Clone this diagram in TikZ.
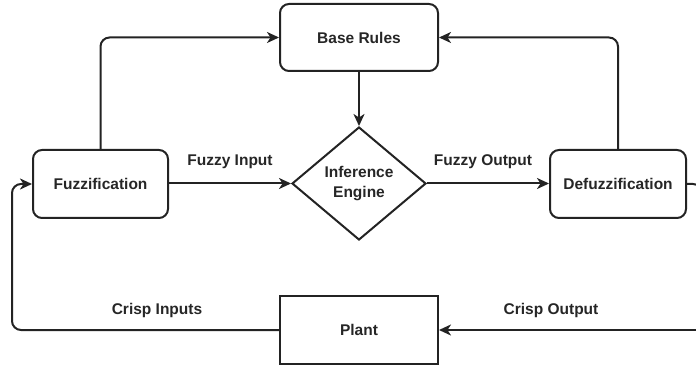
\documentclass[tikz,border=0pt]{standalone}
\usepackage{fontspec}
\setmainfont{Liberation Sans}
\usetikzlibrary{shapes.geometric,arrows.meta}
\begin{document}
\begin{tikzpicture}[x=1pt,y=-1pt,
  line width=2pt, draw={rgb,255:red,35;green,35;blue,35},
  font=\fontsize{15.5}{20}\selectfont\bfseries,
  blk/.style={draw, rounded corners=9pt, inner sep=0pt, text=black!85},
  sq/.style={draw, inner sep=0pt, text=black!85},
  dia/.style={draw, diamond, inner sep=0pt, minimum width=134pt, minimum height=113pt, align=center, text=black!85},
  arr/.style={-{Stealth[length=12pt,width=11pt,inset=3.5pt]}, rounded corners=9pt},
  lab/.style={text=black!85}]
\useasboundingbox (0,0) rectangle (696,366);
\node[blk, minimum width=158pt, minimum height=67pt] (base) at (359,37.5) {Base Rules};
\node[blk, minimum width=135pt, minimum height=68pt] (fuzz) at (100.5,184) {Fuzzification};
\node[dia] (inf) at (359,183.5) {Inference\\Engine};
\node[blk, minimum width=136pt, minimum height=68pt] (defuzz) at (618,184) {Defuzzification};
\node[sq, minimum width=158pt, minimum height=68pt] (plant) at (359,330) {Plant};
\coordinate (r1) at (702,184);
\coordinate (r2) at (702,330);
\coordinate (l1) at (12,330);
\draw[arr] (fuzz.north) -- (fuzz.north |- base.west) -- (base.west);
\draw[arr] (defuzz.north) -- (defuzz.north |- base.east) -- (base.east);
\draw[arr] (base.south) -- (inf.north);
\draw[arr] (fuzz.east |- inf.west) -- (inf.west);
\draw[arr] (inf.east) -- (defuzz.west |- inf.east);
\draw[rounded corners=9pt] (defuzz.east) -- (r1) -- (r2);
\draw[arr] (r2) -- (plant.east);
\draw[arr] (plant.west) -- (l1) -- (l1 |- fuzz.west) -- (fuzz.west);
\node[lab] (t1) at (230,162) {Fuzzy Input};
\node[lab] (t2) at (483,162) {Fuzzy Output};
\node[lab] (t3) at (157,310) {Crisp Inputs};
\node[lab] (t4) at (551,310) {Crisp Output};
\end{tikzpicture}
\end{document}
